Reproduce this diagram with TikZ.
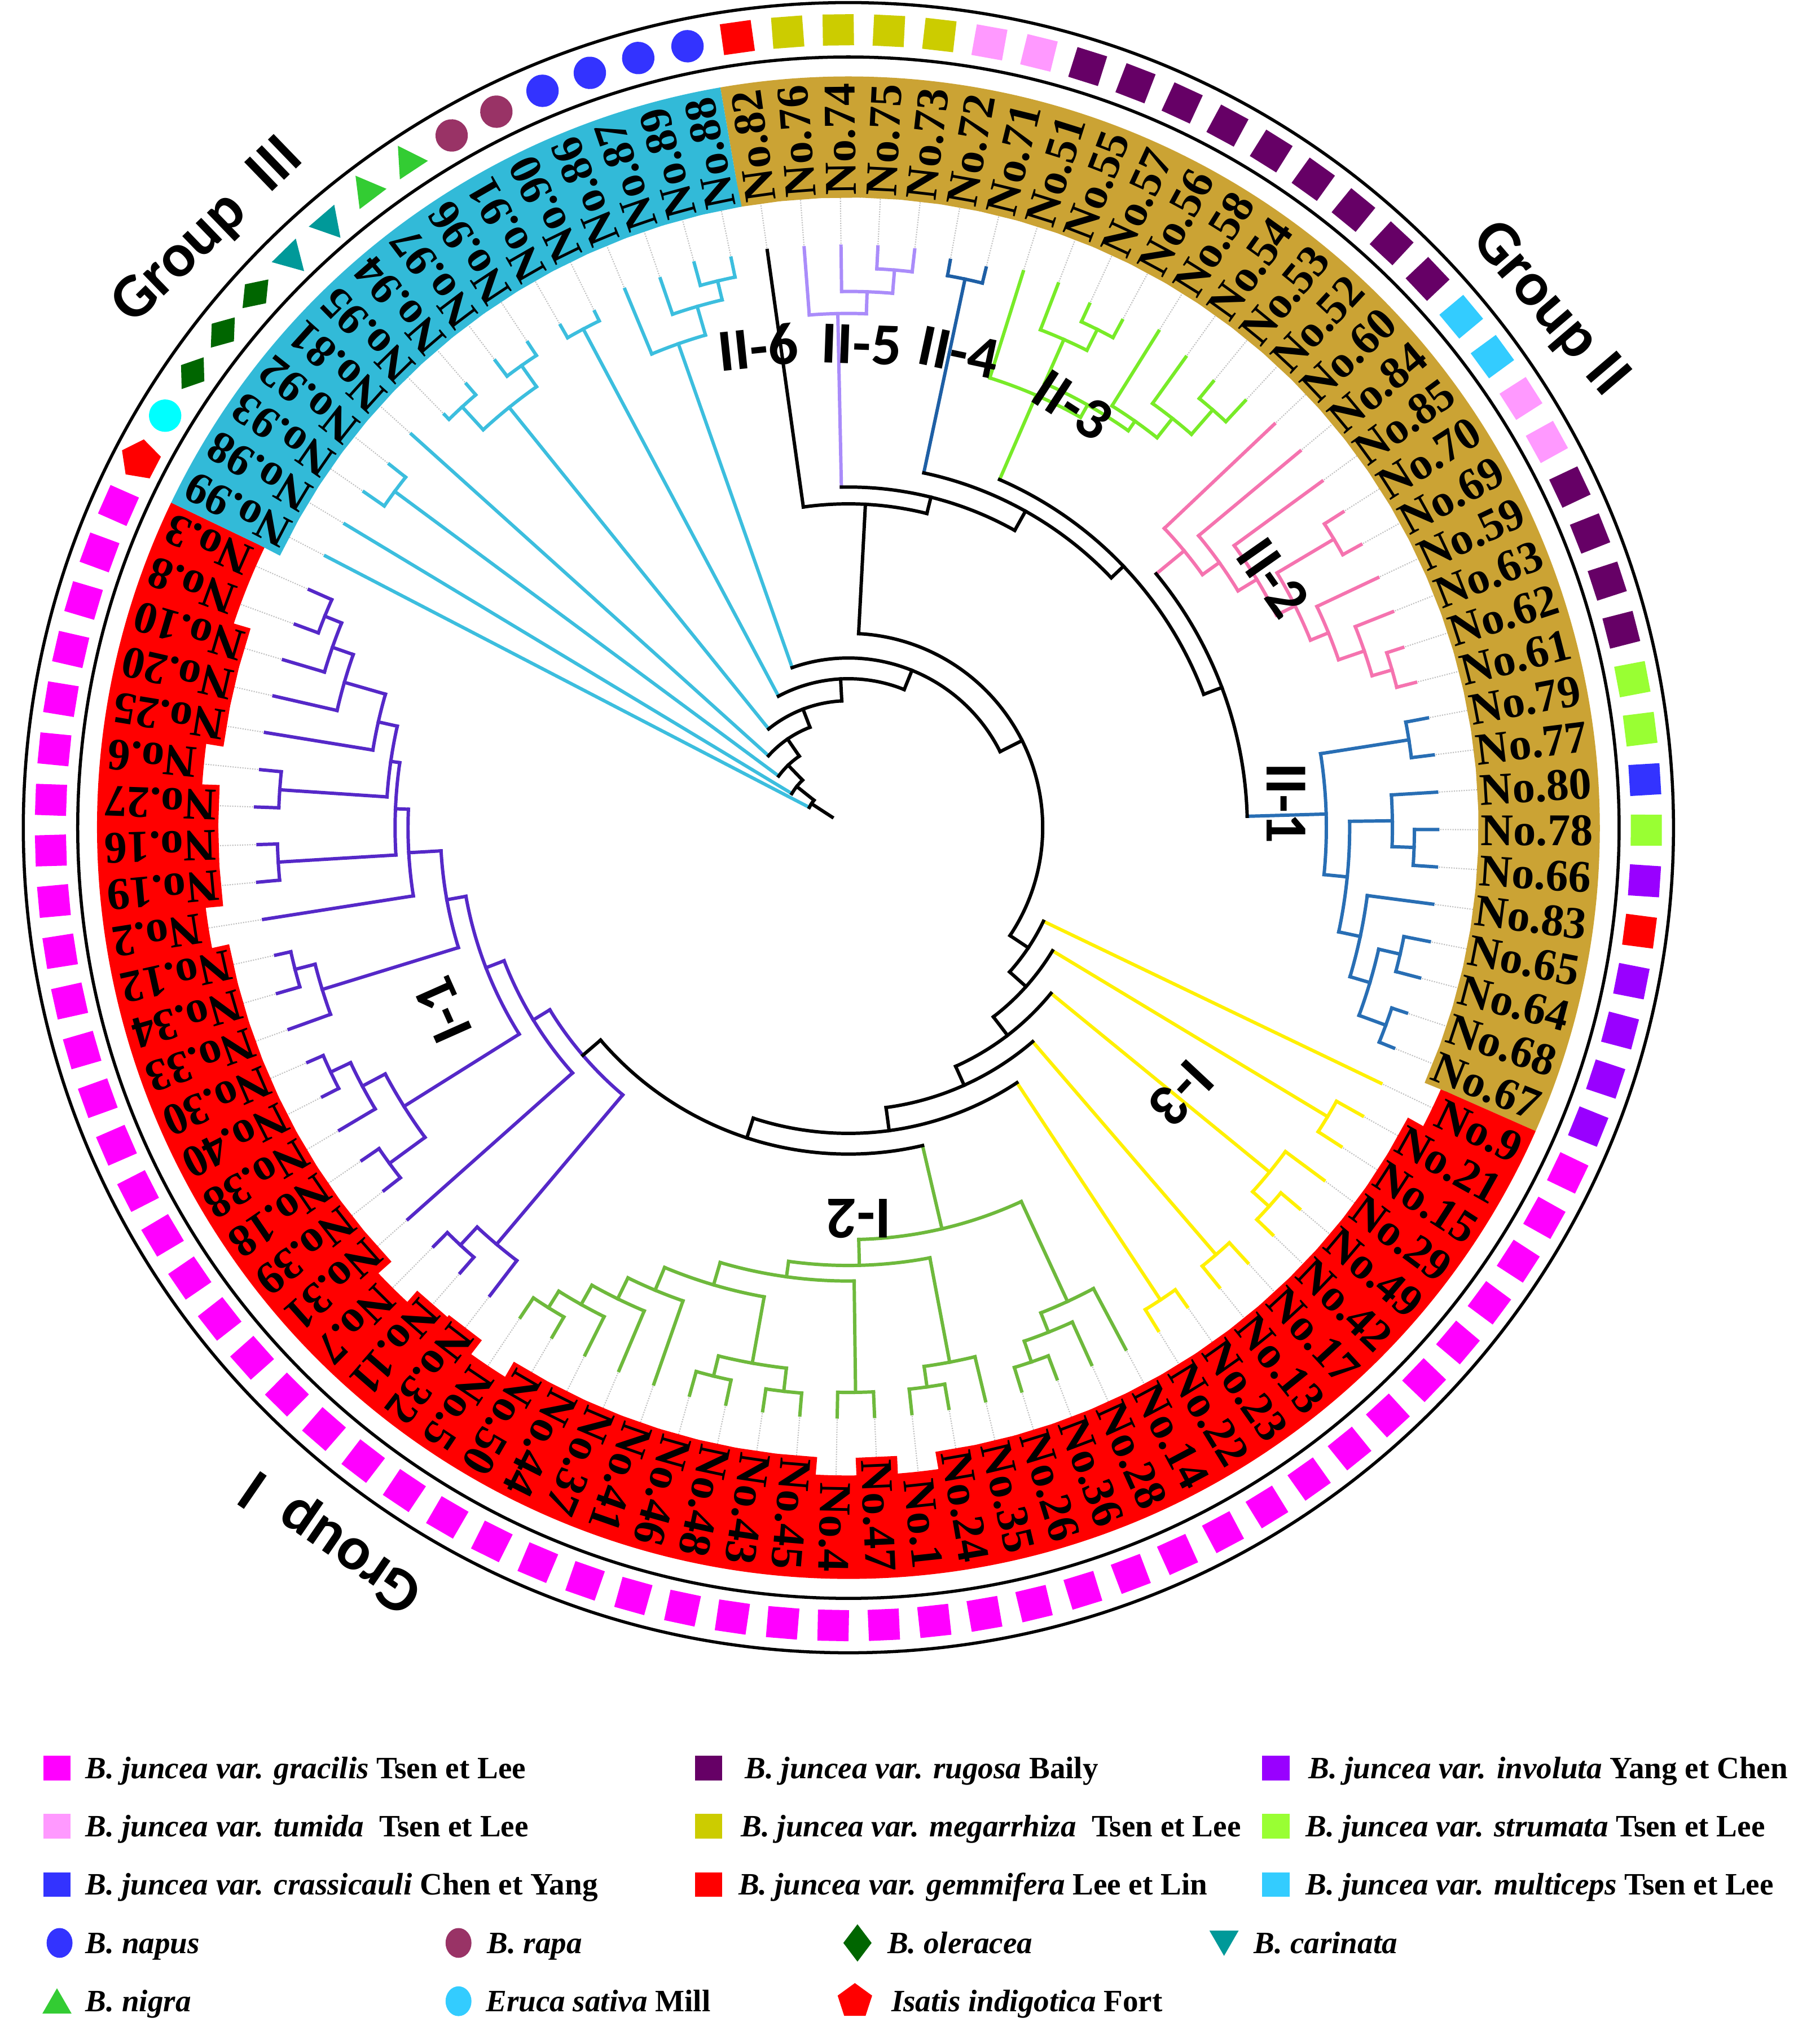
\documentclass[tikz,border=0pt]{standalone}
\usepackage{fontspec}
\setmainfont{Liberation Serif}
\newfontfamily\calfont{Carlito}
\usetikzlibrary{shapes.geometric}
\definecolor{bandIII}{RGB}{50,186,216}
\definecolor{bandII}{RGB}{203,163,52}
\definecolor{bandI}{RGB}{255,0,0}
\definecolor{cIII}{RGB}{60,190,222}
\definecolor{cIIv}{RGB}{170,140,250}
\definecolor{cIIiv}{RGB}{30,95,165}
\definecolor{cIIiii}{RGB}{120,235,40}
\definecolor{cIIii}{RGB}{245,115,175}
\definecolor{cIIi}{RGB}{40,110,180}
\definecolor{cIiii}{RGB}{255,240,0}
\definecolor{cIii}{RGB}{110,185,60}
\definecolor{cIi}{RGB}{85,40,200}
\definecolor{sgra}{RGB}{255,0,255}
\definecolor{srug}{RGB}{102,0,102}
\definecolor{sinv}{RGB}{153,0,255}
\definecolor{stum}{RGB}{255,153,255}
\definecolor{smeg}{RGB}{204,204,0}
\definecolor{sstr}{RGB}{153,255,51}
\definecolor{scra}{RGB}{51,51,255}
\definecolor{sgem}{RGB}{255,0,0}
\definecolor{smul}{RGB}{51,204,255}
\definecolor{snap}{RGB}{51,51,255}
\definecolor{srap}{RGB}{153,51,102}
\definecolor{sole}{RGB}{0,102,0}
\definecolor{scar}{RGB}{0,153,153}
\definecolor{snig}{RGB}{51,204,51}
\definecolor{seru}{RGB}{0,255,255}
\definecolor{serul}{RGB}{51,204,255}
\definecolor{sisa}{RGB}{255,0,0}

% leaf: [colour]{name}{position}{tip radius}
\newcommand\lf[4][black]{%
  \pgfmathsetmacro\tLang{98-3.63636*(#3)}%
  \expandafter\xdef\csname tA@#2\endcsname{\tLang}%
  \expandafter\xdef\csname tR@#2\endcsname{#4pt}%
  \expandafter\xdef\csname tS@#2\endcsname{#1}%
  \draw[dotline] (\tLang:#4pt) -- (\tLang:560pt);%
}
% inner node: {arc colour}{stem colour}{name}{radius}{child1}{child2}
\newcommand\nd[6]{%
  \edef\tAa{\csname tA@#5\endcsname}%
  \edef\tAb{\csname tA@#6\endcsname}%
  \edef\tRa{\csname tR@#5\endcsname}%
  \edef\tRb{\csname tR@#6\endcsname}%
  \edef\tSa{\csname tS@#5\endcsname}%
  \edef\tSb{\csname tS@#6\endcsname}%
  \draw[tree,color=\tSa] (\tAa:#4pt) -- (\tAa:\tRa);%
  \draw[tree,color=\tSb] (\tAb:#4pt) -- (\tAb:\tRb);%
  \draw[tree,color=#1] (\tAa:#4pt) arc[start angle=\tAa, end angle=\tAb, radius=#4pt];%
  \pgfmathsetmacro\tMid{(\tAa+\tAb)/2}%
  \expandafter\xdef\csname tA@#3\endcsname{\tMid}%
  \expandafter\xdef\csname tR@#3\endcsname{#4pt}%
  \expandafter\xdef\csname tS@#3\endcsname{#2}%
}

\begin{document}
\begin{tikzpicture}[x=1pt,y=1pt,
  tree/.style={line width=2.6pt,line cap=rect},
  dotline/.style={densely dotted,line width=0.9pt,color=black!25},
  lbl/.style={anchor=east,inner xsep=2pt,inner ysep=4pt,text height=24pt,text depth=0pt,
    font=\fontsize{35}{40}\selectfont\bfseries},
  clab/.style={font=\calfont\bfseries\fontsize{46}{50}\selectfont},
  glab/.style={font=\calfont\bfseries\fontsize{48}{52}\selectfont},
  sqsym/.style={rectangle,minimum size=24pt,inner sep=0pt},
  cirsym/.style={circle,minimum size=25pt,inner sep=0pt},
  diasym/.style={diamond,minimum width=22pt,minimum height=30pt,inner sep=0pt},
  trisym/.style={regular polygon,regular polygon sides=3,minimum size=30pt,inner sep=0pt},
  pentsym/.style={regular polygon,regular polygon sides=5,minimum size=32pt,inner sep=0pt},
  legtxt/.style={anchor=base west,inner sep=0pt,font=\fontsize{24}{28}\selectfont\bfseries}
]
\fill[white] (-655,-929) rectangle (750,639);
\useasboundingbox (-655,-929) rectangle (750,639);

% ---------------- tree ----------------
% Group III
\lf[cIII]{L99}{-15}{455}\lf[cIII]{L98}{-14}{454}\lf[cIII]{L93}{-13}{455}\lf[cIII]{L92}{-12}{452}
\lf[cIII]{L81}{-11}{454}\lf[cIII]{L95}{-10}{446}\lf[cIII]{L94}{-9}{452}\lf[cIII]{L97}{-8}{452}
\lf[cIII]{L96}{-7}{449}\lf[cIII]{L91}{-6}{447}\lf[cIII]{L90}{-5}{444}\lf[cIII]{L86}{-4}{450}
\lf[cIII]{L87}{-3}{448}\lf[cIII]{L89}{-2}{452}\lf[cIII]{L88}{-1}{449}
\nd{cIII}{cIII}{c1}{436}{L93}{L92}
\nd{cIII}{cIII}{c2a}{441}{L95}{L94}
\nd{cIII}{cIII}{c2b}{437}{L97}{L96}
\nd{cIII}{cIII}{c2}{417}{c2a}{c2b}
\nd{cIII}{cIII}{c3}{436}{L91}{L90}
\nd{cIII}{cIII}{c6}{434}{L89}{L88}
\nd{cIII}{cIII}{c4}{419}{L87}{c6}
\nd{cIII}{cIII}{c5}{396}{L86}{c4}
% Group II
\lf{L82}{0}{450}
\lf[cIIv]{L76}{1}{449}\lf[cIIv]{L74}{2}{449}\lf[cIIv]{L75}{3}{449}\lf[cIIv]{L73}{4}{449}
\nd{cIIv}{cIIv}{n5c}{432}{L75}{L73}
\nd{cIIv}{cIIv}{n5b}{414}{L74}{n5c}
\nd{cIIv}{cIIv}{n5}{397}{L76}{n5b}
\lf[cIIiv]{L72}{5}{445}\lf[cIIiv]{L71}{6}{445}
\nd{cIIiv}{cIIiv}{n4}{433}{L72}{L71}
\lf[cIIiii]{L51}{7}{450}\lf[cIIiii]{L55}{8}{450}\lf[cIIiii]{L57}{9}{445}\lf[cIIiii]{L56}{10}{445}
\lf[cIIiii]{L58}{11}{452}\lf[cIIiii]{L54}{12}{447}\lf[cIIiii]{L53}{13}{445}\lf[cIIiii]{L52}{14}{450}
\nd{cIIiii}{cIIiii}{g1}{430}{L57}{L56}
\nd{cIIiii}{cIIiii}{g2}{412}{L55}{g1}
\nd{cIIiii}{cIIiii}{g5}{428}{L53}{L52}
\nd{cIIiii}{cIIiii}{g3}{403}{L54}{g5}
\nd{cIIiii}{cIIiii}{g6}{384}{L58}{g3}
\nd{cIIiii}{cIIiii}{g7}{375}{g2}{g6}
\nd{cIIiii}{cIIiii}{n3}{364}{L51}{g7}
\lf[cIIii]{L60}{15}{453}\lf[cIIii]{L84}{16}{454}\lf[cIIii]{L85}{17}{453}\lf[cIIii]{L70}{18}{453}
\lf[cIIii]{L69}{19}{452}\lf[cIIii]{L59}{20}{452}\lf[cIIii]{L63}{21}{452}\lf[cIIii]{L62}{22}{450}
\lf[cIIii]{L61}{23}{452}
\nd{cIIii}{cIIii}{p2g}{437}{L62}{L61}
\nd{cIIii}{cIIii}{p2f}{421}{L63}{p2g}
\nd{cIIii}{cIIii}{p2e}{400}{L59}{p2f}
\nd{cIIii}{cIIii}{p2h}{436}{L70}{L69}
\nd{cIIii}{cIIii}{p2d}{385}{p2h}{p2e}
\nd{cIIii}{cIIii}{p2c}{369}{L85}{p2d}
\nd{cIIii}{cIIii}{p2b}{352}{L84}{p2c}
\nd{cIIii}{cIIii}{p2a}{336}{L60}{p2b}
\lf[cIIi]{L79}{24}{455}\lf[cIIi]{L77}{25}{455}\lf[cIIi]{L80}{26}{455}\lf[cIIi]{L78}{27}{455}
\lf[cIIi]{L66}{28}{455}\lf[cIIi]{L83}{29}{455}\lf[cIIi]{L65}{30}{457}\lf[cIIi]{L64}{31}{456}
\lf[cIIi]{L68}{32}{454}\lf[cIIi]{L67}{33}{454}
\nd{cIIi}{cIIi}{b1}{438}{L79}{L77}
\nd{cIIi}{cIIi}{b3a}{437}{L78}{L66}
\nd{cIIi}{cIIi}{b3}{420}{L80}{b3a}
\nd{cIIi}{cIIi}{b5a}{437}{L65}{L64}
\nd{cIIi}{cIIi}{b5b}{442}{L68}{L67}
\nd{cIIi}{cIIi}{b5}{420}{b5a}{b5b}
\nd{cIIi}{cIIi}{b4}{404}{L83}{b5}
\nd{cIIi}{cIIi}{b2}{387}{b3}{b4}
\nd{cIIi}{cIIi}{n1}{369}{b1}{b2}
\nd{black}{black}{U4}{308}{p2a}{n1}
\nd{black}{black}{U3}{293}{n3}{U4}
\nd{black}{black}{U2}{280}{n4}{U3}
\nd{black}{black}{U1b}{263}{n5}{U2}
\nd{black}{black}{U1}{250}{L82}{U1b}
% Group I : I-3
\lf[cIiii]{L9}{34}{456}\lf[cIiii]{L21}{35}{455}\lf[cIiii]{L15}{36}{453}\lf[cIiii]{L29}{37}{457}
\lf[cIiii]{L49}{38}{456}\lf[cIiii]{L42}{39}{454}\lf[cIiii]{L17}{40}{456}\lf[cIiii]{L13}{41}{456}
\lf[cIiii]{L23}{42}{453}\lf[cIiii]{L22}{43}{456}
\nd{cIiii}{cIiii}{y2}{432}{L21}{L15}
\nd{cIiii}{cIiii}{y3b}{437}{L49}{L42}
\nd{cIiii}{cIiii}{y3}{420}{L29}{y3b}
\nd{cIiii}{cIiii}{y4}{435}{L17}{L13}
\nd{cIiii}{cIiii}{y5}{437}{L23}{L22}
% I-2
\lf[cIii]{L14}{44}{456}\lf[cIii]{L28}{45}{455}\lf[cIii]{L36}{46}{455}\lf[cIii]{L26}{47}{455}
\lf[cIii]{L35}{48}{455}\lf[cIii]{L24}{49}{455}\lf[cIii]{L1}{50}{455}\lf[cIii]{L47}{51}{455}
\lf[cIii]{L4}{52}{455}\lf[cIii]{L45}{53}{455}\lf[cIii]{L43}{54}{455}\lf[cIii]{L48}{55}{455}
\lf[cIii]{L46}{56}{455}\lf[cIii]{L41}{57}{455}\lf[cIii]{L37}{58}{455}\lf[cIii]{L44}{59}{455}
\lf[cIii]{L50}{60}{455}\lf[cIii]{L5}{61}{455}
\nd{cIii}{cIii}{r4}{436}{L36}{L26}
\nd{cIii}{cIii}{r3}{419}{L28}{r4}
\nd{cIii}{cIii}{r2}{403}{L14}{r3}
\nd{cIii}{cIii}{qx}{436}{L24}{L1}
\nd{cIii}{cIii}{qa}{420}{L35}{qx}
\nd{cIii}{cIii}{qy}{436}{L47}{L4}
\nd{cIii}{cIii}{qp}{438}{L45}{L43}
\nd{cIii}{cIii}{qq}{436}{L48}{L46}
\nd{cIii}{cIii}{qd}{420}{qp}{qq}
\nd{cIii}{cIii}{qh}{437}{L50}{L5}
\nd{cIii}{cIii}{qg}{422}{L44}{qh}
\nd{cIii}{cIii}{qf}{405}{L37}{qg}
\nd{cIii}{cIii}{qe}{387}{L41}{qf}
\nd{cIii}{cIii}{qc}{368}{qd}{qe}
\nd{cIii}{cIii}{qb}{350}{qy}{qc}
\nd{cIii}{cIii}{ql}{338}{qa}{qb}
\nd{cIii}{cIii}{itworoot}{318}{r2}{ql}
% I-1
\lf[cIi]{L32}{62}{455}\lf[cIi]{L11}{63}{456}\lf[cIi]{L7}{64}{455}\lf[cIi]{L31}{65}{455}
\lf[cIi]{L39}{66}{455}\lf[cIi]{L18}{67}{455}\lf[cIi]{L38}{68}{457}\lf[cIi]{L40}{69}{456}
\lf[cIi]{L30}{70}{455}\lf[cIi]{L33}{71}{459}\lf[cIi]{L34}{72}{459}\lf[cIi]{L12}{73}{453}
\lf[cIi]{L2}{74}{457}\lf[cIi]{L19}{75}{458}\lf[cIi]{L16}{76}{456}\lf[cIi]{L27}{77}{458}
\lf[cIi]{L6}{78}{456}\lf[cIi]{L25}{79}{456}\lf[cIi]{L20}{80}{455}\lf[cIi]{L10}{81}{455}
\lf[cIi]{L8}{82}{455}\lf[cIi]{L3}{83}{455}
\nd{cIi}{cIi}{k2}{440}{L11}{L7}
\nd{cIi}{cIi}{k1}{421}{L32}{k2}
\nd{cIi}{cIi}{j3a}{439}{L39}{L18}
\nd{cIi}{cIi}{j3c}{442}{L40}{L30}
\nd{cIi}{cIi}{j3b}{425}{L38}{j3c}
\nd{cIi}{cIi}{j3}{405}{j3a}{j3b}
\nd{cIi}{cIi}{j5a}{441}{L34}{L12}
\nd{cIi}{cIi}{j5}{425}{L33}{j5a}
\nd{cIi}{cIi}{t8}{441}{L19}{L16}
\nd{cIi}{cIi}{t6}{440}{L27}{L6}
\nd{cIi}{cIi}{t1}{436}{L8}{L3}
\nd{cIi}{cIi}{t2}{422}{L10}{t1}
\nd{cIi}{cIi}{t3}{405}{L20}{t2}
\nd{cIi}{cIi}{t4}{372}{L25}{t3}
\nd{cIi}{cIi}{t5}{357}{t6}{t4}
\nd{cIi}{cIi}{t7}{350}{t8}{t5}
\nd{cIi}{cIi}{j7}{340}{L2}{t7}
\nd{cIi}{cIi}{j6}{315}{j5}{j7}
\nd{cIi}{cIi}{j2}{300}{j3}{j6}
\nd{cIi}{cIi}{j1}{285}{L31}{j2}
\nd{cIi}{black}{ioneroot}{270}{k1}{j1}
% backbone
\nd{black}{black}{V6}{252}{ioneroot}{itworoot}
\nd{black}{black}{V5}{236}{y5}{V6}
\nd{black}{black}{V4}{218}{y4}{V5}
\nd{black}{black}{V3}{202}{y3}{V4}
\nd{black}{black}{V2}{184}{y2}{V3}
\nd{black}{black}{V1}{167}{L9}{V2}
\nd{black}{black}{A}{150}{U1}{V1}
\nd{black}{black}{C}{131}{c5}{A}
\nd{black}{black}{D}{115}{c3}{C}
\nd{black}{black}{E}{98}{c2}{D}
\nd{black}{black}{F}{83}{L81}{E}
\nd{black}{black}{G}{67}{c1}{F}
\nd{black}{black}{H}{51}{L98}{G}
\nd{black}{black}{I}{34}{L99}{H}
\edef\rootang{\csname tA@I\endcsname}
\coordinate (rootin) at (\rootang:15pt);
\coordinate (rootout) at (\rootang:34pt);
\draw[tree] (rootin) -- (rootout);

% ---------------- label band ----------------
\fill[bandII] (99.82:500pt) arc[start angle=99.82,end angle=-23.82,radius=500pt]
  -- (-23.82:580pt) arc[start angle=-23.82,end angle=99.82,radius=580pt] -- cycle;
\fill[bandI] (-23.82:500pt) arc[start angle=-23.82,end angle=-205.64,radius=500pt]
  -- (-205.64:580pt) arc[start angle=-205.64,end angle=-23.82,radius=580pt] -- cycle;
\fill[bandIII] (-205.64:500pt) arc[start angle=-205.64,end angle=-260.18,radius=500pt]
  -- (-260.18:580pt) arc[start angle=-260.18,end angle=-205.64,radius=580pt] -- cycle;
\foreach \n [count=\k from 0] in {82,76,74,75,73,72,71,51,55,57,56,58,54,53,52,60,84,85,70,69,59,63,62,61,79,77,80,78,66,83,65,64,68,67}{
  \pgfmathsetmacro\a{98-3.63636*\k}
  \node[lbl,fill=bandII,rotate=\a] (lab\n) at (\a:577pt) {No.\n};}
\foreach \n [count=\k from 34] in {9,21,15,29,49,42,17,13,23,22,14,28,36,26,35,24,1,47,4,45,43,48,46,41,37,44,50,5,32,11,7,31,39,18,38,40,30,33,34,12,2,19,16,27,6,25,20,10,8,3}{
  \pgfmathsetmacro\a{98-3.63636*\k}
  \node[lbl,fill=bandI,rotate=\a] (lab\n) at (\a:577pt) {No.\n};}
\foreach \n [count=\k from -15] in {99,98,93,92,81,95,94,97,96,91,90,86,87,89,88}{
  \pgfmathsetmacro\a{98-3.63636*\k}
  \node[lbl,fill=bandIII,rotate=\a] (lab\n) at (\a:577pt) {No.\n};}

% ---------------- rings and symbols ----------------
\draw[line width=2.4pt] (0,0) circle[radius=595pt];
\draw[line width=2.4pt] (0,0) circle[radius=637pt];
\foreach \p/\c in {0/sgem,1/smeg,2/smeg,3/smeg,4/smeg,5/stum,6/stum,7/srug,8/srug,9/srug,10/srug,11/srug,12/srug,13/srug,14/srug,15/srug,16/smul,17/smul,18/stum,19/stum,20/srug,21/srug,22/srug,23/srug,24/sstr,25/sstr,26/scra,27/sstr,28/sinv,29/sgem,30/sinv,31/sinv,32/sinv,33/sinv}{
  \pgfmathsetmacro\a{98-3.63636*\p}
  \node[sqsym,fill=\c,rotate=\a] (sym\p) at (\a:616pt) {};}
\foreach \p in {34,...,83}{
  \pgfmathsetmacro\a{98-3.63636*\p}
  \node[sqsym,fill=sgra,rotate=\a] (sym\p) at (\a:616pt) {};}
\foreach \p/\sh/\c/\off in {-15/pentsym/sisa/-90,-14/cirsym/seru/0,-13/diasym/sole/0,-12/diasym/sole/0,-11/diasym/sole/0,-10/trisym/scar/90,-9/trisym/scar/90,-8/trisym/snig/-90,-7/trisym/snig/-90,-6/cirsym/srap/0,-5/cirsym/srap/0,-4/cirsym/snap/0,-3/cirsym/snap/0,-2/cirsym/snap/0,-1/cirsym/snap/0}{
  \pgfmathsetmacro\a{98-3.63636*\p}
  \pgfmathsetmacro\rr{\a+\off}
  \node[\sh,fill=\c,rotate=\rr] (symg\p) at (\a:616pt) {};}

% ---------------- clade and group labels ----------------
\node[clab,rotate=6] (cl26) at (-70,371) {II-6};
\node[clab,rotate=-2] (cl25) at (10,373) {II-5};
\node[clab,rotate=-12] (cl24) at (85,367) {II-4};
\node[clab,rotate=-33] (cl23) at (173,326) {II-3};
\node[clab,rotate=-55] (cl22) at (328,193) {II-2};
\node[clab,rotate=-90] (cl21) at (338,19) {II-1};
\node[clab,rotate=-133] (cl13) at (257,-205) {I-3};
\node[clab,rotate=180] (cl12) at (8,-302) {I-2};
\node[clab,rotate=114] (cl11) at (-313,-141) {I-1};
\node[glab,rotate=44] (g3) at (-494,460) {Group\hspace{0.45em}III};
\node[glab,rotate=-49.5] (g2) at (541,400) {Group II};
\node[glab,rotate=145.5] (g1) at (-398,-550) {Group\hspace{0.45em}I};

% ---------------- legend ----------------
\node[rectangle,minimum width=21pt,minimum height=19pt,inner sep=0pt,fill=sgra] (k1) at (-611,-726) {};
\node[legtxt] (t1) at (-589,-734) {\textit{B. juncea var. gracilis} Tsen et Lee};
\node[rectangle,minimum width=21pt,minimum height=19pt,inner sep=0pt,fill=srug] (k2) at (-108,-726) {};
\node[legtxt] (t2) at (-80,-734) {\textit{B. juncea var. rugosa} Baily};
\node[rectangle,minimum width=21pt,minimum height=19pt,inner sep=0pt,fill=sinv] (k3) at (330,-726) {};
\node[legtxt] (t3) at (355,-734) {\textit{B. juncea var. involuta} Yang et Chen};
\node[rectangle,minimum width=21pt,minimum height=19pt,inner sep=0pt,fill=stum] (k4) at (-611,-771) {};
\node[legtxt] (t4) at (-589,-779) {\textit{B. juncea var. tumida}\ \ Tsen et Lee};
\node[rectangle,minimum width=21pt,minimum height=19pt,inner sep=0pt,fill=smeg] (k5) at (-108,-771) {};
\node[legtxt] (t5) at (-83,-779) {\textit{B. juncea var. megarrhiza}\ \ Tsen et Lee};
\node[rectangle,minimum width=21pt,minimum height=19pt,inner sep=0pt,fill=sstr] (k6) at (330,-771) {};
\node[legtxt] (t6) at (353,-779) {\textit{B. juncea var. strumata} Tsen et Lee};
\node[rectangle,minimum width=21pt,minimum height=19pt,inner sep=0pt,fill=scra] (k7) at (-611,-816) {};
\node[legtxt] (t7) at (-589,-824) {\textit{B. juncea var. crassicauli} Chen et Yang};
\node[rectangle,minimum width=21pt,minimum height=19pt,inner sep=0pt,fill=sgem] (k8) at (-108,-816) {};
\node[legtxt] (t8) at (-85,-824) {\textit{B. juncea var. gemmifera} Lee et Lin};
\node[rectangle,minimum width=21pt,minimum height=19pt,inner sep=0pt,fill=smul] (k9) at (330,-816) {};
\node[legtxt] (t9) at (353,-824) {\textit{B. juncea var. multiceps} Tsen et Lee};
\node[ellipse,minimum width=20pt,minimum height=23pt,inner sep=0pt,fill=snap] (k10) at (-609,-861) {};
\node[legtxt] (t10) at (-589,-869) {\textit{B. napus}};
\node[ellipse,minimum width=20pt,minimum height=23pt,inner sep=0pt,fill=srap] (k11) at (-301,-861) {};
\node[legtxt] (t11) at (-279,-869) {\textit{B. rapa}};
\node[diamond,minimum width=22pt,minimum height=29pt,inner sep=0pt,fill=sole] (k12) at (7,-861) {};
\node[legtxt] (t12) at (30,-869) {\textit{B. oleracea}};
\node[regular polygon,regular polygon sides=3,shape border rotate=180,minimum size=26pt,inner sep=0pt,fill=scar] (k13) at (290,-858) {};
\node[legtxt] (t13) at (313,-869) {\textit{B. carinata}};
\node[regular polygon,regular polygon sides=3,minimum size=26pt,inner sep=0pt,fill=snig] (k14) at (-611,-909) {};
\node[legtxt] (t14) at (-589,-914) {\textit{B. nigra}};
\node[ellipse,minimum width=20pt,minimum height=23pt,inner sep=0pt,fill=serul] (k15) at (-301,-906) {};
\node[legtxt] (t15) at (-280,-914) {\textit{Eruca sativa} Mill};
\node[regular polygon,regular polygon sides=5,minimum size=28pt,inner sep=0pt,fill=sisa] (k16) at (5,-906) {};
\node[legtxt] (t16) at (33,-914) {\textit{Isatis indigotica} Fort};
\end{tikzpicture}
\end{document}
